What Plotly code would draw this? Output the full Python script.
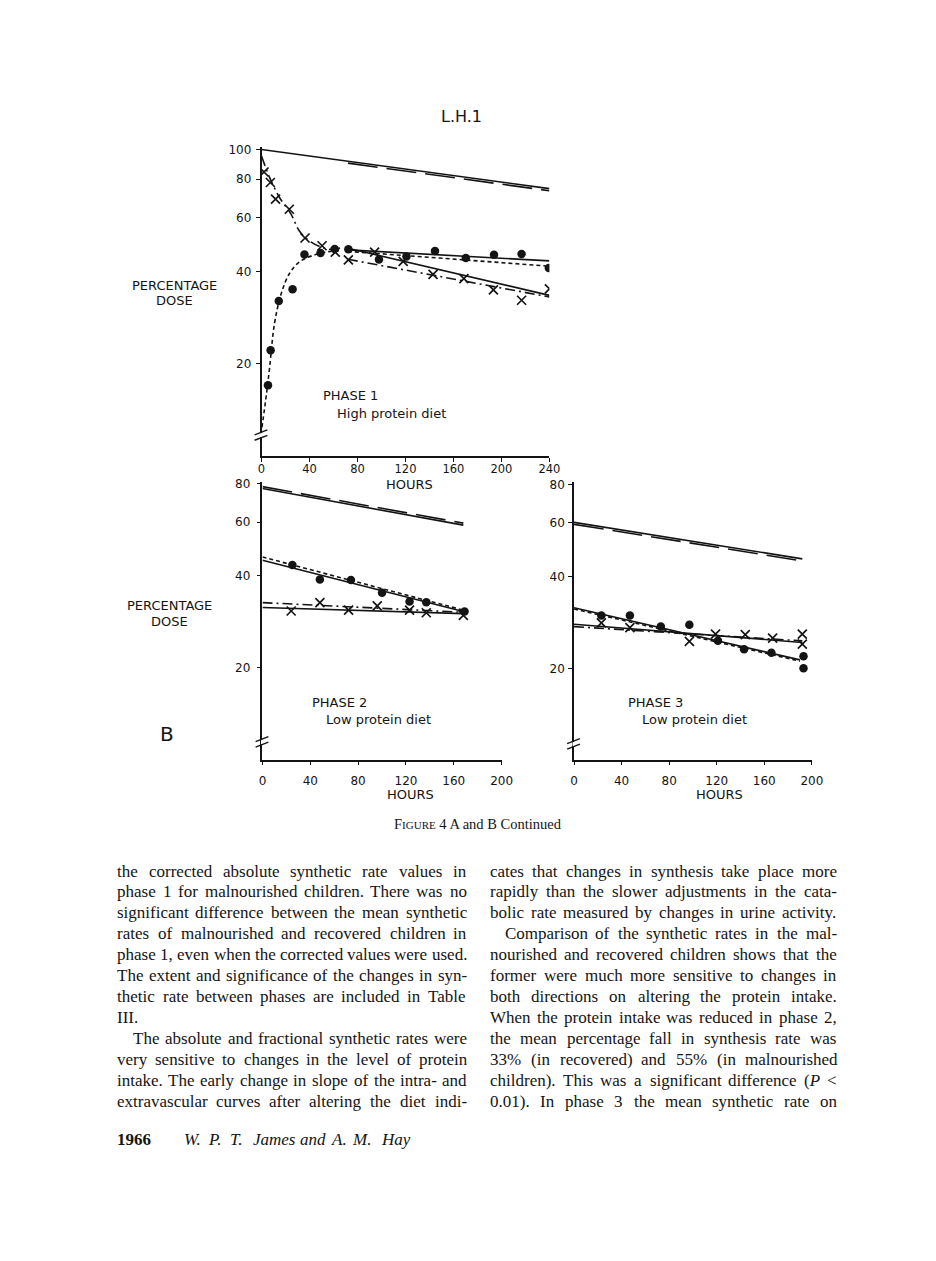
import math
import re
import plotly.graph_objects as go

W, H = 936, 1261
INK = "#141414"


def px(x):
    return x / W


def py(y):
    return 1 - y / H


# ------------------------------------------------------------------ data
# Phase 1 (high protein diet), hours / percentage dose
p1_top_solid_x = [0, 240]
p1_top_solid_y = [100, 74.5]
p1_top_dash_x = [72, 240]
p1_top_dash_y = [90.2, 73.3]

p1_cross_curve_x = [0, 6.8, 15, 24.6, 31.4, 39.6, 50.5, 61.5]
p1_cross_curve_y = [95.1, 80.9, 69.7, 61.5, 54.3, 50.4, 47.9, 46.8]
p1_dot_curve_x = [0.4, 4.2, 6.8, 10.8, 16.4, 23.2, 31.4, 42.2, 56, 66]
p1_dot_curve_y = [12.4, 16.0, 19.5, 27.0, 33.8, 39.3, 42.9, 45.0, 46.4, 46.8]

p1_cross_x = [2.1, 7.4, 11.7, 23.2, 36.3, 50.5, 61.5, 72.4, 94.3, 118.1, 143, 168.7, 193.3, 216.8, 240]
p1_cross_y = [84.4, 78.0, 68.8, 63.8, 51.4, 48.5, 46.2, 43.6, 46.2, 43.1, 39.1, 37.9, 34.8, 32.2, 35.1]
p1_dot_x = [5.4, 7.6, 14.4, 25.9, 35.8, 49.2, 61, 72.4, 97.9, 120.8, 144.6, 170.3, 193.8, 216.8, 239.5]
p1_dot_y = [17.0, 22.1, 32.0, 35.0, 45.4, 45.9, 47.3, 47.2, 43.7, 44.7, 46.6, 44.2, 45.3, 45.6, 41.0]

p1_fit_x = [72, 240]
p1_dot_solid_y = [47.0, 43.3]
p1_dot_dash_y = [46.5, 41.6]
p1_cross_solid_y = [47.6, 33.4]
p1_cross_dashdot_y = [43.8, 33.0]

# Phase 2 (low protein diet)
p2_fit_x = [0, 168]
p2_top_solid_y = [77.2, 58.6]
p2_top_dash_y = [78.3, 59.5]
p2_dot_solid_y = [45.0, 30.6]
p2_dot_dash_y = [46.1, 30.9]
p2_cross_solid_y = [31.5, 30.1]
p2_cross_dashdot_y = [32.7, 30.4]
p2_dot_x = [25, 48, 74, 100, 123, 137, 169]
p2_dot_y = [43.4, 38.9, 38.8, 35.2, 33.0, 32.8, 30.6]
p2_cross_x = [24, 48, 72, 96, 123, 137, 168]
p2_cross_y = [30.7, 32.7, 30.9, 31.9, 30.9, 30.3, 29.7]

# Phase 3 (low protein diet)
p3_fit_x = [0, 192]
p3_top_solid_y = [60.3, 45.8]
p3_top_dash_y = [59.4, 45.1]
p3_dot_fit_x = [0, 190]
p3_dot_solid_y = [31.7, 21.4]
p3_dot_dash_y = [31.4, 21.2]
p3_cross_solid_y = [28.0, 24.4]
p3_cross_dashdot_y = [27.5, 24.7]
p3_dot_x = [23, 47, 73, 97, 121, 143, 166, 193, 193]
p3_dot_y = [29.9, 29.9, 27.5, 27.9, 24.7, 23.2, 22.6, 22.0, 20.1]
p3_cross_x = [23, 47, 97, 119, 144, 167, 192, 192]
p3_cross_y = [28.3, 27.3, 24.6, 26.0, 25.9, 25.2, 26.0, 24.1]

# tick labels
p1_xticks = [0, 40, 80, 120, 160, 200, 240]
p23_xticks = [0, 40, 80, 120, 160, 200]
p1_yticks = [20, 40, 60, 80, 100]
p23_yticks = [20, 40, 60, 80]

# body text
left_lines = [
    ("the corrected absolute synthetic rate values in", True, False),
    ("phase 1 for malnourished children. There was no", True, False),
    ("significant difference between the mean synthetic", True, False),
    ("rates of malnourished and recovered children in", True, False),
    ("phase 1, even when the corrected values were used.", True, False),
    ("The extent and significance of the changes in syn-", True, False),
    ("thetic rate between phases are included in Table", True, False),
    ("III.", False, False),
    ("The absolute and fractional synthetic rates were", True, True),
    ("very sensitive to changes in the level of protein", True, False),
    ("intake. The early change in slope of the intra- and", True, False),
    ("extravascular curves after altering the diet indi-", True, False),
]
right_lines = [
    ("cates that changes in synthesis take place more", True, False),
    ("rapidly than the slower adjustments in the cata-", True, False),
    ("bolic rate measured by changes in urine activity.", True, False),
    ("Comparison of the synthetic rates in the mal-", True, True),
    ("nourished and recovered children shows that the", True, False),
    ("former were much more sensitive to changes in", True, False),
    ("both directions on altering the protein intake.", True, False),
    ("When the protein intake was reduced in phase 2,", True, False),
    ("the mean percentage fall in synthesis rate was", True, False),
    ("33% (in recovered) and 55% (in malnourished", True, False),
    ("children). This was a significant difference (<i>P</i> <", True, False),
    ("0.01). In phase 3 the mean synthetic rate on", True, False),
]

# ------------------------------------------------------------------ figure
fig = go.Figure()

DASH_LONG = "30px,9px"
DASH_SHORT = "4px,3px"
DASH_DOT = "10px,4px,2px,4px"
LW = 1.6


def add_line(xs, ys, ax, dash="solid", shape="linear"):
    fig.add_trace(go.Scatter(
        x=xs, y=ys, mode="lines", xaxis="x" + ax, yaxis="y" + ax,
        line=dict(color=INK, width=LW, dash=dash, shape=shape, smoothing=1.0),
        hoverinfo="skip"))


def add_dots(xs, ys, ax):
    fig.add_trace(go.Scatter(
        x=xs, y=ys, mode="markers", xaxis="x" + ax, yaxis="y" + ax,
        marker=dict(symbol="circle", size=8.5, color=INK), hoverinfo="skip"))


def add_crosses(xs, ys, ax):
    fig.add_trace(go.Scatter(
        x=xs, y=ys, mode="markers", xaxis="x" + ax, yaxis="y" + ax,
        marker=dict(symbol="x-thin", size=9, line=dict(color=INK, width=1.7)),
        hoverinfo="skip"))


# Panel 1
add_line(p1_top_solid_x, p1_top_solid_y, "")
add_line(p1_top_dash_x, p1_top_dash_y, "", DASH_LONG)
add_line(p1_cross_curve_x, p1_cross_curve_y, "", DASH_DOT, "spline")
add_line(p1_dot_curve_x, p1_dot_curve_y, "", DASH_SHORT, "spline")
add_line(p1_fit_x, p1_dot_solid_y, "")
add_line(p1_fit_x, p1_dot_dash_y, "", DASH_SHORT)
add_line(p1_fit_x, p1_cross_solid_y, "")
add_line(p1_fit_x, p1_cross_dashdot_y, "", DASH_DOT)
add_dots(p1_dot_x, p1_dot_y, "")
add_crosses(p1_cross_x, p1_cross_y, "")

# Panel 2
add_line(p2_fit_x, p2_top_solid_y, "2")
add_line(p2_fit_x, p2_top_dash_y, "2", DASH_LONG)
add_line(p2_fit_x, p2_dot_solid_y, "2")
add_line(p2_fit_x, p2_dot_dash_y, "2", DASH_SHORT)
add_line(p2_fit_x, p2_cross_solid_y, "2")
add_line(p2_fit_x, p2_cross_dashdot_y, "2", DASH_DOT)
add_dots(p2_dot_x, p2_dot_y, "2")
add_crosses(p2_cross_x, p2_cross_y, "2")

# Panel 3
add_line(p3_fit_x, p3_top_solid_y, "3")
add_line(p3_fit_x, p3_top_dash_y, "3", DASH_LONG)
add_line(p3_dot_fit_x, p3_dot_solid_y, "3")
add_line(p3_dot_fit_x, p3_dot_dash_y, "3", DASH_SHORT)
add_line(p3_fit_x, p3_cross_solid_y, "3")
add_line(p3_fit_x, p3_cross_dashdot_y, "3", DASH_DOT)
add_dots(p3_dot_x, p3_dot_y, "3")
add_crosses(p3_cross_x, p3_cross_y, "3")


def tickfont(size):
    return dict(family="DejaVu Sans", size=size, color=INK)


def xaxis_cfg(x0, x1, rng, ticks, anchor, standoff, fsize=12):
    return dict(domain=[px(x0), px(x1)], range=rng, anchor=anchor,
                showline=True, linecolor=INK, linewidth=1.5, ticks="outside",
                ticklen=4, tickwidth=1.3, tickcolor=INK, showgrid=False,
                zeroline=False, tickvals=ticks, ticktext=[str(t) for t in ticks],
                tickfont=tickfont(fsize), ticklabelstandoff=standoff, fixedrange=True)


def yaxis_cfg(y_top, y_bottom, rng, ticks, anchor, standoff):
    return dict(domain=[py(y_bottom), py(y_top)], range=rng, type="log",
                anchor=anchor, showline=True, linecolor=INK, linewidth=1.5,
                ticks="outside", ticklen=4, tickwidth=1.3, tickcolor=INK,
                showgrid=False, zeroline=False, tickvals=ticks,
                ticktext=[str(t) for t in ticks], tickfont=tickfont(12),
                ticklabelstandoff=standoff, fixedrange=True)


L80 = math.log10(80)
fig.update_layout(
    width=W, height=H, margin=dict(l=0, r=0, t=0, b=0),
    paper_bgcolor="white", plot_bgcolor="white", showlegend=False,
    xaxis=xaxis_cfg(261.7, 554.3, [0, 240], p1_xticks, "y", -2, 11.5),
    yaxis=yaxis_cfg(143, 452.7, [1.0, 2 + 2 / 308], p1_yticks, "x", 2),
    xaxis2=xaxis_cfg(262.7, 505.7, [0, 200], p23_xticks, "y2", 5),
    yaxis2=yaxis_cfg(479, 757.7, [L80 - (757.7 - 480.7) / 307, L80 + (480.7 - 479) / 307],
                     p23_yticks, "x2", 4),
    xaxis3=xaxis_cfg(579.3, 821, [0, 200], p23_xticks, "y3", 5),
    yaxis3=yaxis_cfg(479, 757.7, [L80 - (757.7 - 481.7) / 307, L80 + (481.7 - 479) / 307],
                     p23_yticks, "x3", 1),
)

# ------------------------------------------------------------------ texts
ann = []


def text(x, y, s, size=13, family="DejaVu Sans", xanchor="center", yanchor="middle", **kw):
    ann.append(dict(x=px(x), y=py(y), xref="paper", yref="paper", text=s,
                    showarrow=False, xanchor=xanchor, yanchor=yanchor, borderpad=0,
                    font=dict(family=family, size=size, color=INK), **kw))


text(465, 112, "L.H.1", size=16)
text(173, 282, "PERCENTAGE")
text(173, 297, "DOSE")
text(168, 603, "PERCENTAGE")
text(168, 619, "DOSE")
text(165.5, 732, "B", size=20)
text(323, 392, "PHASE 1", xanchor="left")
text(337, 410, "High protein diet", xanchor="left")
text(412, 481, "HOURS")
text(312, 700, "PHASE 2", xanchor="left")
text(326, 717, "Low protein diet", xanchor="left")
text(413, 793, "HOURS")
text(633, 700, "PHASE 3", xanchor="left")
text(647, 717, "Low protein diet", xanchor="left")
text(727, 793, "HOURS")

text(482, 822, "F<span style='font-size:11px'>IGURE</span> 4 A and B Continued",
     size=14.5, family="Liberation Serif")

# Times / Liberation Serif advance widths (1/1000 em)
TW = dict(zip("abcdefghijklmnopqrstuvwxyz",
              [444, 500, 444, 500, 444, 333, 500, 500, 278, 278, 500, 278, 778,
               500, 500, 500, 500, 333, 389, 278, 500, 500, 722, 500, 500, 444]))
TW.update(zip("ABCDEFGHIJKLMNOPQRSTUVWXYZ",
              [722, 667, 667, 722, 611, 556, 722, 722, 333, 389, 722, 611, 889,
               722, 722, 556, 722, 667, 556, 611, 722, 722, 944, 722, 722, 611]))
TW.update({" ": 250, ".": 250, ",": 250, "-": 333, "(": 333, ")": 333,
           "%": 833, "<": 564, ":": 278, ";": 278})
for d in "0123456789":
    TW[d] = 500


def tw(s, size):
    s = re.sub(r"<[^>]+>", "", s)
    return sum(TW.get(c, 500) for c in s) * size / 1000


BODY = 17


def column(lines, left, right, y0, dy, indent):
    for i, (line, just, ind) in enumerate(lines):
        y = y0 + dy * i
        x0 = left + (indent if ind else 0)
        words = line.split(" ")
        widths = [tw(w, BODY) for w in words]
        if just and len(words) > 1:
            gap = (right - x0 - sum(widths)) / (len(words) - 1)
        else:
            gap = tw(" ", BODY)
        x = x0
        for w, wd in zip(words, widths):
            text(x, y, w, size=BODY, family="Liberation Serif", xanchor="left")
            x += wd + gap


column(left_lines, 114, 469, 869.5, 21.0, 16)
column(right_lines, 493, 845, 869.5, 21.0, 15)

# footer
text(114, 1139, "<b>1966</b>", size=17, family="Liberation Serif", xanchor="left")
for xw, w in [(181.7, "W."), (206.7, "P."), (228.3, "T."), (251.7, "James"),
              (300, "and"), (331, "A."), (352.5, "M."), (382, "Hay")]:
    text(xw, 1139, "<i>" + w + "</i>", size=17, family="Liberation Serif", xanchor="left")

fig.update_layout(annotations=ann)

# axis break marks
shapes = []


def seg(x0, y0, x1, y1, color=INK, width=1.4):
    shapes.append(dict(type="line", xref="paper", yref="paper",
                       x0=px(x0), y0=py(y0), x1=px(x1), y1=py(y1),
                       line=dict(color=color, width=width)))


for ax_x, yb in [(261.7, 432), (262.7, 740), (579.3, 742)]:
    seg(ax_x, yb - 2.2, ax_x, yb + 2.2, color="white", width=3)
    seg(ax_x - 7, yb - 0.5, ax_x + 6, yb - 5.5)
    seg(ax_x - 7, yb + 5.0, ax_x + 6, yb + 0.0)

fig.update_layout(shapes=shapes)

fig.write_html(
    "out.html",
    post_script=("document.documentElement.style.margin='0';"
                 "document.documentElement.style.overflow='hidden';"
                 "document.body.style.margin='0';"
                 "document.body.style.overflow='hidden';"),
    config={"displayModeBar": False})
